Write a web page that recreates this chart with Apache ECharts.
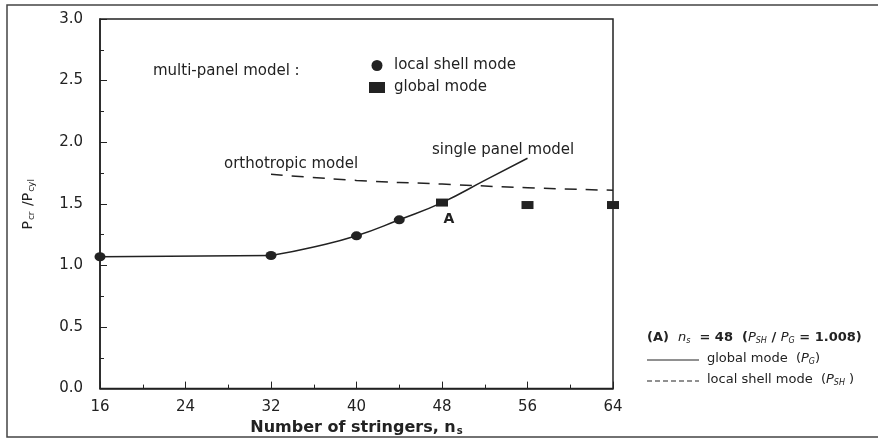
<!DOCTYPE html>
<html>
<head>
<meta charset="utf-8">
<script src="https://cdn.jsdelivr.net/npm/echarts@6/dist/echarts.min.js"></script>
<style>
  html, body { margin: 0; background: #fff; }
  #chart { width: 878px; height: 441px; }
</style>
</head>
<body>
<div id="chart"></div>
<script>
// values
const flatX = [16, 32];
const flatY = [1.07, 1.08];
const singlePanelX = [32, 36, 40, 44, 48, 52, 56];
const singlePanelY = [1.08, 1.15, 1.24, 1.37, 1.51, 1.69, 1.87];
const orthoX = [32, 40, 48, 56, 64];
const orthoY = [1.74, 1.69, 1.66, 1.63, 1.61];
const localShellX = [16, 32, 40, 44];
const localShellY = [1.07, 1.08, 1.24, 1.37];
const globalX = [48, 56, 64];
const globalY = [1.51, 1.49, 1.49];
const pointLabels = ['A', '', ''];

const ink = '#222';
const font = 'DejaVu Sans';

const pairs = (xs, ys) => xs.map((x, i) => [x, ys[i]]);

const chart = echarts.init(document.getElementById('chart'), null, {renderer: 'canvas'});

const noteRich = {
  n: {fontFamily: font, fontSize: 13, fill: ink},
  b: {fontFamily: font, fontWeight: 'bold', fontSize: 13, fill: ink},
  i: {fontFamily: font, fontStyle: 'italic', fontSize: 13, fill: ink},
  x: {fontFamily: font, fontStyle: 'italic', fontSize: 8, fill: ink, padding: [6, 0, 0, 0]}
};

chart.setOption({
  animation: false,
  backgroundColor: '#fff',
  grid: {
    left: 100, right: 265, top: 19, bottom: 49,
    show: true, borderColor: ink, borderWidth: 1.5
  },
  legend: {
    orient: 'vertical',
    left: 364, top: 53,
    itemWidth: 16, itemHeight: 11, itemGap: 7,
    selectedMode: false,
    data: [
      {name: 'local shell mode', icon: 'circle'},
      {name: 'global mode', icon: 'rect'}
    ],
    itemStyle: {opacity: 1},
    textStyle: {fontFamily: font, fontSize: 15, color: ink, padding: [0, 0, 0, 4]}
  },
  xAxis: {
    type: 'value', min: 16, max: 64, interval: 8,
    name: '{t|Number of stringers, n}{s|s}',
    nameLocation: 'middle', nameGap: 26,
    nameTextStyle: {
      rich: {
        t: {fontFamily: font, fontWeight: 'bold', fontSize: 16, color: ink},
        s: {fontFamily: font, fontWeight: 'bold', fontSize: 10, color: ink, padding: [7, 0, 0, 1]}
      }
    },
    axisLine: {lineStyle: {color: ink, width: 1.5}},
    axisTick: {inside: true, length: 7, lineStyle: {color: ink}},
    minorTick: {show: true, splitNumber: 2, length: 4, lineStyle: {color: ink}},
    splitLine: {show: false},
    axisLabel: {fontFamily: font, fontSize: 15, color: ink, margin: 11}
  },
  yAxis: {
    type: 'value', min: 0, max: 3, interval: 0.5,
    name: '{p|P}{s|cr}{p| /P}{s|cyl}',
    nameLocation: 'middle', nameGap: 64,
    nameTextStyle: {
      rich: {
        p: {fontFamily: font, fontSize: 14, color: ink},
        s: {fontFamily: font, fontSize: 9, color: ink, padding: [7, 1, 0, 1]}
      }
    },
    axisLine: {lineStyle: {color: ink, width: 1.5}},
    axisTick: {inside: true, length: 7, lineStyle: {color: ink}},
    minorTick: {show: true, splitNumber: 2, length: 4, lineStyle: {color: ink}},
    splitLine: {show: false},
    axisLabel: {
      fontFamily: font, fontSize: 15, color: ink, margin: 17,
      formatter: v => v.toFixed(1)
    }
  },
  series: [
    {
      name: 'single panel flat', type: 'line', data: pairs(flatX, flatY),
      showSymbol: false, lineStyle: {color: ink, width: 1.5}, z: 2
    },
    {
      name: 'single panel model', type: 'line', data: pairs(singlePanelX, singlePanelY),
      smooth: true, showSymbol: false, lineStyle: {color: ink, width: 1.5}, z: 2
    },
    {
      name: 'orthotropic model', type: 'line', data: pairs(orthoX, orthoY),
      smooth: true, showSymbol: false,
      lineStyle: {color: ink, width: 1.5, type: [12, 9]}, z: 2
    },
    {
      name: 'local shell mode', type: 'scatter', data: pairs(localShellX, localShellY),
      symbol: 'circle', symbolSize: [11, 9], itemStyle: {color: ink, opacity: 1}, z: 3
    },
    {
      name: 'global mode', type: 'scatter',
      data: globalX.map((x, i) => ({
        value: [x, globalY[i]],
        label: {
          show: pointLabels[i] !== '', formatter: pointLabels[i],
          position: 'bottom', offset: [7, 1],
          fontFamily: font, fontWeight: 'bold', fontSize: 14, color: ink
        }
      })),
      symbol: 'rect', symbolSize: [12, 8], itemStyle: {color: ink, opacity: 1}, z: 3
    }
  ],
  graphic: [
    // scan frame round the figure
    {type: 'rect', shape: {x: 7, y: 5, width: 900, height: 432},
     style: {fill: null, stroke: '#444', lineWidth: 1.5}, silent: true},
    {type: 'text', left: 153, top: 64,
     style: {text: 'multi-panel model :', font: '15px "DejaVu Sans"', fill: ink}},
    {type: 'text', left: 432, top: 143,
     style: {text: 'single panel model', font: '15px "DejaVu Sans"', fill: ink}},
    {type: 'text', left: 224, top: 157,
     style: {text: 'orthotropic model', font: '15px "DejaVu Sans"', fill: ink}},
    // explanatory notes at the lower right
    {type: 'text', left: 647, top: 331,
     style: {
       text: '{b|(A)  }{i|n}{x|s}{b|  = 48  (}{i|P}{x|SH}{b| / }{i|P}{x|G}{b| = 1.008)}',
       rich: noteRich
     }},
    {type: 'line', shape: {x1: 647, y1: 360, x2: 699, y2: 360},
     style: {stroke: ink, lineWidth: 1}},
    {type: 'text', left: 707, top: 352,
     style: {text: '{n|global mode  (}{i|P}{x|G}{n|)}', rich: noteRich}},
    {type: 'line', shape: {x1: 647, y1: 381, x2: 699, y2: 381},
     style: {stroke: ink, lineWidth: 1.2, lineDash: [5, 3]}},
    {type: 'text', left: 707, top: 373,
     style: {text: '{n|local shell mode  (}{i|P}{x|SH}{n| )}', rich: noteRich}}
  ]
});
</script>
</body>
</html>
